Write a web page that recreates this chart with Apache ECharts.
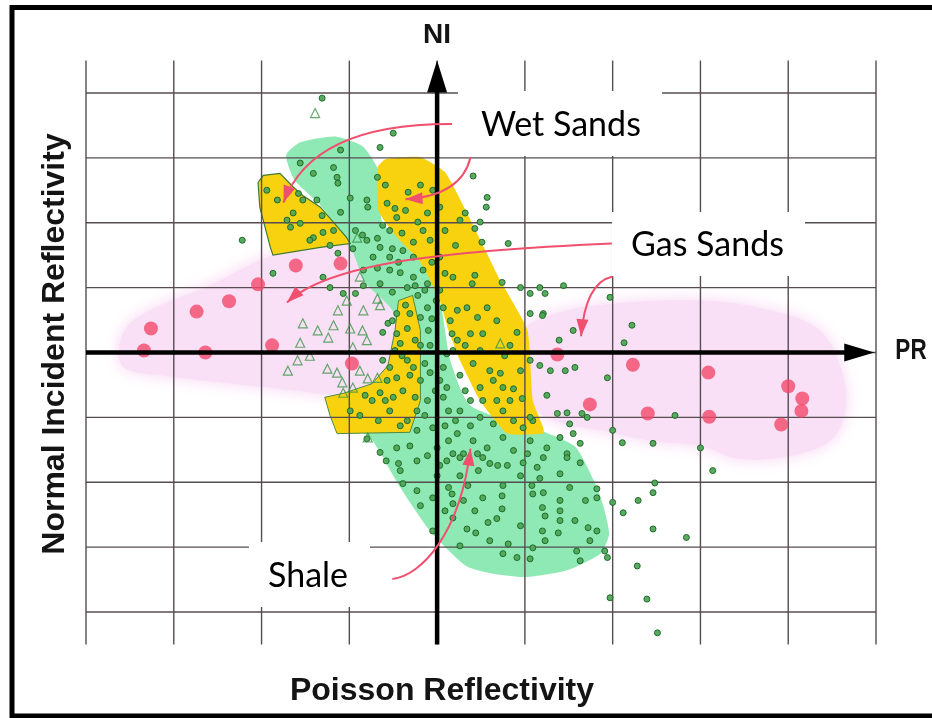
<!DOCTYPE html>
<html>
<head>
<meta charset="utf-8">
<script src="https://cdn.jsdelivr.net/npm/echarts@6/dist/echarts.min.js"></script>
<style>
  html, body { margin: 0; padding: 0; background: #ffffff; }
  #chart { width: 932px; height: 718px; }
</style>
</head>
<body>
<div id="chart"></div>
<script>
// Grid line positions, in reflectivity cells
const prTicks = [-4, -3, -2, -1, 0, 1, 2, 3, 4, 5];
const niTicks = [-4, -3, -2, -1, 0, 1, 2, 3, 4];

// Gas sand samples (large red dots): [PR, NI]
const gasSandPoints = [
  [-3.34, 0.03], [-3.26, 0.37], [-2.74, 0.63], [-2.37, 0.79], [-2.04, 1.05],
  [-1.61, 1.34], [-1.10, 1.37], [-2.64, 0.00], [-1.88, 0.11], [-0.97, -0.17],
  [1.37, -0.03], [2.23, -0.19], [3.09, -0.31], [1.74, -0.80], [2.40, -0.94],
  [3.10, -0.99], [4.00, -0.52], [4.16, -0.71], [4.15, -0.90], [3.92, -1.11]
];

// Shale / wet sand samples (small green circles): [PR, NI]
const circlePoints = [
  [-1.31, 3.92], [-0.65, 3.16], [-0.50, 3.38], [0.41, 2.72], [0.57, 2.39],
  [0.56, 2.24], [0.32, 2.15], [0.26, 2.04], [0.49, 2.01], [0.43, 1.91],
  [0.51, 1.70], [0.81, 1.68], [0.18, 1.16], [0.43, 1.19], [0.40, 1.06],
  [0.74, 1.08], [0.95, 1.00], [1.17, 1.00], [1.06, 0.91], [1.23, 0.91],
  [1.44, 1.03], [1.97, 0.85], [1.21, 0.60], [2.22, 0.42], [2.13, 0.15],
  [1.55, 0.34], [1.39, 0.19], [-2.22, 1.73], [-1.87, 1.22], [-1.07, 0.91],
  [-1.56, 2.92], [-1.41, 2.76], [-1.18, 2.85], [-1.14, 2.70], [-1.10, 3.12],
  [-0.68, 2.70], [-0.80, 2.35], [-1.10, 2.16], [-1.18, 1.88], [-1.64, 2.15],
  [-1.71, 2.04], [-1.56, 1.99], [-1.41, 1.77], [-1.94, 2.50], [-1.82, 2.35],
  [-1.53, 2.35], [-1.37, 2.35], [-1.13, 2.61], [-1.31, 2.11], [-1.58, 2.45],
  [-0.59, 2.58], [-0.79, 2.24], [-0.57, 2.30], [-0.48, 2.22], [-0.33, 2.47],
  [-0.99, 2.38], [-0.93, 1.88], [-0.85, 1.81], [-0.80, 1.73], [-0.68, 1.76],
  [-0.62, 1.96], [-0.54, 1.88], [-0.46, 2.08], [-0.40, 1.84], [-0.27, 1.70],
  [-0.16, 1.88], [-0.11, 2.15], [-0.65, 1.62], [-0.51, 1.60], [-0.39, 1.57],
  [-0.27, 1.47], [-0.54, 1.47], [-0.73, 1.47], [-0.84, 1.27], [-0.68, 1.30],
  [-0.54, 1.27], [-0.42, 1.23], [-0.27, 1.16], [-0.16, 1.27], [-0.11, 1.06],
  [-0.34, 1.00], [-0.65, 1.06], [-0.84, 1.03], [-0.93, 0.91], [-1.22, 1.00],
  [-1.30, 1.16], [-1.45, 1.73], [-1.67, 1.93], [-1.30, 1.85], [-1.22, 1.65],
  [-1.13, 1.53], [-0.96, 1.60], [0.03, 1.47], [0.09, 1.88], [0.03, 2.24],
  [0.09, 1.22], [0.03, 0.96], [-0.05, 2.50], [-0.19, 2.58], [0.21, 1.65],
  [-0.62, 0.31], [-0.56, 0.45], [-0.46, 0.29], [-0.42, 0.14], [-0.34, 0.37],
  [-0.25, 0.19], [-0.31, 0.60], [-0.19, 0.54], [-0.46, 0.60], [-0.10, 0.34],
  [-0.11, 0.69], [-0.62, -0.12], [-0.54, -0.23], [-0.57, -0.43], [-0.46, -0.39],
  [-0.34, -0.12], [-0.27, -0.23], [-0.19, -0.43], [-0.39, -0.59], [-0.50, -0.69],
  [-0.25, -0.69], [-0.11, -0.74], [-0.14, -0.17], [-0.59, -0.74], [-0.65, -0.62],
  [-0.99, -0.90], [-0.88, -0.97], [-0.67, -1.05], [-0.42, -1.13], [-0.23, -0.90],
  [-0.05, -1.16], [0.07, -0.23], [0.11, -0.54], [0.13, -0.90], [0.18, 0.03],
  [-0.65, -1.54], [-0.46, -1.47], [-0.23, -1.20], [0.00, -1.47], [0.13, -1.36],
  [0.18, -1.56], [0.07, 0.69], [0.15, 0.49], [0.17, 0.29], [0.11, -0.02],
  [0.07, -0.69], [0.03, -0.43], [0.23, 0.65], [0.34, 0.69], [0.46, 0.54],
  [0.57, 0.69], [0.52, 0.29], [0.38, 0.29], [0.68, 0.49], [0.91, 0.31],
  [0.23, 0.19], [0.41, -0.17], [0.60, -0.28], [0.72, -0.32], [0.64, -0.43],
  [0.75, -0.54], [0.87, -0.56], [0.95, -0.28], [0.49, -0.54], [0.52, -0.74],
  [0.68, -0.74], [0.83, -0.74], [0.97, -0.71], [0.75, -0.90], [0.38, -0.74],
  [0.26, -0.90], [0.49, -1.00], [0.64, -1.10], [0.87, -1.05], [0.98, -1.16],
  [1.09, -1.05], [0.23, -1.25], [0.41, -1.36], [0.57, -1.47], [0.75, -1.31],
  [0.87, -1.51], [1.06, -1.36], [1.03, -1.56], [0.30, -1.56], [0.52, -1.62],
  [1.25, -1.47], [1.40, -1.31], [1.48, -1.56], [1.55, -1.25], [1.63, -1.40],
  [-0.51, 0.93], [-0.22, 0.88], [-0.08, 0.11], [-0.36, 0.73],
  [1.06, 0.60], [1.20, 0.57], [1.06, -0.12], [1.17, -0.20], [1.29, -0.28],
  [1.46, -0.28], [1.57, -0.23], [1.94, -0.39], [1.25, -0.66], [1.37, -0.94],
  [1.48, -0.93], [1.65, -0.94], [1.71, -1.00], [1.06, -1.00], [1.51, -1.10],
  [2.71, -0.97], [2.00, -1.20], [2.11, -1.39], [2.46, -1.40], [3.00, -1.47],
  [3.14, -1.82], [2.48, -2.01], [2.46, -2.16],
  [-0.44, -1.71], [0.11, -1.67], [0.26, -1.62], [0.46, -1.56], [0.60, -1.71],
  [0.69, -1.74], [0.80, -1.74], [0.98, -1.70], [1.14, -1.77], [1.21, -1.62],
  [1.48, -1.62], [1.63, -1.70], [1.40, -1.87], [-0.39, -2.02], [0.13, -2.08],
  [0.17, -2.18], [0.35, -2.05], [0.52, -2.24], [0.75, -2.05], [0.74, -2.21],
  [1.08, -2.05], [1.09, -2.18], [1.21, -2.16], [1.51, -2.08], [1.82, -2.10],
  [1.82, -2.24], [0.18, -2.33], [0.74, -2.41], [0.68, -2.56], [1.20, -2.39],
  [1.23, -2.52], [1.40, -2.28], [1.40, -2.44], [1.40, -2.59], [1.38, -2.78],
  [1.20, -2.75], [0.58, -2.62], [0.34, -2.72], [0.44, -2.78], [1.72, -2.70],
  [1.82, -2.75], [0.81, -2.95], [1.09, -3.01], [1.23, -2.90], [0.75, -3.10],
  [0.91, -3.16], [1.06, -3.18], [1.59, -3.06], [1.63, -3.21], [1.91, -3.06],
  [1.94, -3.16], [2.00, -2.31], [2.12, -2.47], [2.29, -2.28], [2.46, -2.72],
  [2.28, -3.29], [1.97, -3.78], [2.39, -3.80], [2.51, -4.32], [-0.23, -1.67],
  [-0.42, -1.82], [-0.23, -2.13], [-0.05, -2.24], [0.00, -1.90], [0.30, -2.28],
  [0.18, -2.55], [-0.05, -2.75], [0.26, -2.98], [-0.58, -1.67], [-0.80, -1.33],
  [0.95, -1.90], [2.84, -2.85], [1.17, -1.94],
  [-0.19, 0.11], [-0.06, 0.52], [-0.01, 0.80], [-0.14, 0.96], [-0.25, 1.03],
  [-0.44, 1.39], [-0.06, 1.39], [-0.08, 1.73], [-0.22, 2.01], [-0.36, 2.19],
  [-0.51, 0.49], [-0.40, -0.05], [-0.48, 0.03], [-0.31, -0.35], [-0.08, -0.31],
  [-0.02, -0.59], [-0.14, -0.97], [-0.34, -1.05], [-0.54, -0.90], [-0.74, -0.74],
  [-0.82, -0.66], [0.26, -0.35], [0.32, -0.59], [0.21, -1.05], [0.09, -1.13],
  [0.38, -1.13], [0.03, -1.74], [-0.11, -1.59], [-0.31, -1.44], [0.26, -1.90],
  [0.47, -1.82], [-0.19, -2.36], [0.09, -2.44], [0.43, -2.44], [0.60, -2.90],
  [0.95, -2.67], [1.57, -2.59], [1.69, -2.28], [1.74, -2.90], [0.32, 0.11],
  [0.49, 0.03], [0.77, -0.05], [0.83, 0.11]
];

// Open triangle samples: [PR, NI]
const trianglePoints = [
  [-1.39, 3.69], [-0.68, 0.83], [-0.88, 1.17], [-1.53, 0.45], [-1.18, 0.42],
  [-0.99, 0.37], [-1.24, 0.23], [-1.56, 0.15], [-0.80, 0.19], [-0.96, 0.08],
  [-0.65, 0.73], [-1.36, 0.34], [-0.85, 0.34], [-1.25, -0.25], [-1.14, -0.31],
  [-1.08, -0.46], [-0.88, -0.28], [-0.79, -0.40], [-0.96, -0.54], [-1.07, -0.62],
  [-0.79, -1.31], [-0.91, 1.77], [-0.84, 0.65], [-1.59, -0.12], [-0.68, -0.39],
  [0.72, 0.14], [-1.03, 0.80], [-1.13, 0.65], [-1.70, -0.28], [-1.45, -0.05]
];

// Shaded zones (outline vertices): [PR, NI]
const gasZoneLeft = [
  [-3.63, 0.00], [-3.52, 0.42], [-3.15, 0.73], [-2.59, 1.03], [-2.07, 1.39],
  [-1.67, 1.60], [-1.22, 1.73], [-0.76, 1.60], [-0.42, 1.27], [-0.14, 0.80],
  [-0.08, 0.19], [-0.19, -0.35], [-0.53, -0.62], [-1.10, -0.66], [-1.79, -0.56],
  [-2.47, -0.46], [-3.15, -0.35], [-3.55, -0.25]
];
const gasZoneRight = [
  [0.89, 0.26], [1.40, 0.62], [2.08, 0.76], [3.00, 0.80], [3.79, 0.65],
  [4.36, 0.34], [4.61, -0.28], [4.65, -0.90], [4.48, -1.36], [4.02, -1.59],
  [3.45, -1.64], [3.00, -1.44], [2.43, -1.36], [1.86, -1.20], [1.34, -1.05],
  [1.00, -0.74], [0.85, -0.28]
];
const shaleZone = [
  [-1.72, 3.04], [-1.56, 3.24], [-1.16, 3.33], [-0.85, 3.18], [-0.67, 2.81],
  [-0.62, 1.99], [-0.23, 1.57], [0.03, 0.80], [0.15, -0.12], [0.38, -0.82],
  [1.23, -1.23], [1.58, -1.46], [1.85, -2.18], [1.96, -2.79], [1.86, -3.10],
  [1.47, -3.36], [1.01, -3.46], [0.64, -3.41], [0.33, -3.29], [-0.08, -2.75],
  [-0.42, -2.08], [-0.76, -1.31], [-0.99, -1.13], [-0.65, -0.66], [-0.44, 0.03],
  [-0.51, 0.65], [-0.82, 1.08], [-0.97, 1.57], [-1.33, 2.27], [-1.62, 2.65]
];
const wetZoneUpper = [
  [-2.04, 2.62], [-1.98, 2.73], [-1.79, 2.76], [-1.64, 2.55], [-1.53, 2.42],
  [-1.33, 2.24], [-1.03, 1.77], [-0.99, 1.68], [-1.33, 1.62], [-1.87, 1.50],
  [-1.90, 1.62], [-2.02, 2.24]
];
const wetZoneRight = [
  [-0.68, 2.85], [-0.59, 2.98], [-0.19, 3.01], [0.09, 2.78], [0.34, 2.15],
  [0.72, 1.11], [1.03, 0.34], [1.09, -0.74], [1.21, -1.16], [1.21, -1.25],
  [0.80, -1.25], [0.49, -0.74], [0.26, -0.12], [0.13, 0.34], [0.03, 0.80],
  [-0.19, 1.39], [-0.48, 1.81], [-0.67, 2.19]
];
const wetZoneLower = [
  [-1.28, -0.69], [-1.07, -0.63], [-0.74, -0.48], [-0.56, -0.20], [-0.48, 0.34],
  [-0.44, 0.80], [-0.28, 0.88], [-0.19, 0.34], [-0.19, -0.74], [-0.31, -1.23],
  [-1.14, -1.25], [-1.22, -0.97]
];

// Curved pointers from the labels (start, control point(s), tip): [PR, NI]
const pointerCurves = [
  [[0.17, 3.52], [-1.42, 3.53], [-1.75, 2.31]],
  [[0.38, 3.01], [0.28, 2.42], [-0.36, 2.36]],
  [[1.99, 1.68], [0.15, 1.57], [-1.22, 1.39], [-1.71, 0.77]],
  [[2.00, 1.17], [1.69, 1.08], [1.64, 0.25]],
  [[-0.51, -3.49], [-0.19, -3.44], [0.26, -2.82], [0.38, -1.48]]
];

const chart = echarts.init(document.getElementById('chart'), null, { renderer: 'canvas' });

function zoneSeries(points, style, z, smooth) {
  return {
    type: 'custom', z: z, silent: true, data: [0],
    renderItem: function (params, api) {
      return {
        type: 'polygon',
        shape: { points: points.map(p => api.coord(p)), smooth: smooth },
        style: style
      };
    }
  };
}

const pointerColor = '#f0506e';
const hazeStyle = { fill: '#f9e0f6', shadowBlur: 16, shadowColor: '#f7d4f2' };

const option = {
  animation: false,
  grid: { left: 86, right: 56, top: 60.5, bottom: 73.5 },
  xAxis: { type: 'value', min: -4, max: 5, show: false },
  yAxis: { type: 'value', min: -4.5, max: 4.5, show: false },
  series: [
    zoneSeries(gasZoneLeft, hazeStyle, 1, 0.35),
    zoneSeries(gasZoneRight, hazeStyle, 1, 0.35),
    zoneSeries(shaleZone, { fill: '#8fe9b5' }, 2, 0.2),
    zoneSeries(wetZoneRight, { fill: '#f8d20f' }, 3, 0.15),
    zoneSeries(wetZoneLower, { fill: '#f8d20f', stroke: '#4f8a3e', lineWidth: 1 }, 3, 0),
    zoneSeries(wetZoneUpper, { fill: '#f8d20f', stroke: '#3f7a36', lineWidth: 1.2 }, 3, 0),
    {
      // vertical grid lines
      type: 'custom', z: 4, silent: true, data: prTicks,
      renderItem: function (params, api) {
        const x = api.value(0);
        const a = api.coord([x, -4.5]);
        const b = api.coord([x, 4.5]);
        return { type: 'line', shape: { x1: a[0], y1: a[1], x2: b[0], y2: b[1] },
                 style: { stroke: '#574c50', lineWidth: 1.4 } };
      }
    },
    {
      // horizontal grid lines
      type: 'custom', z: 4, silent: true, data: niTicks,
      renderItem: function (params, api) {
        const y = api.value(0);
        const a = api.coord([-4, y]);
        const b = api.coord([5, y]);
        return { type: 'line', shape: { x1: a[0], y1: a[1], x2: b[0], y2: b[1] },
                 style: { stroke: '#574c50', lineWidth: 1.4 } };
      }
    },
    {
      type: 'scatter', z: 5, silent: true, data: circlePoints,
      symbol: 'circle', symbolSize: 6,
      itemStyle: { color: '#4fa656', borderColor: '#1c6628', borderWidth: 1, opacity: 0.95 }
    },
    {
      type: 'scatter', z: 5, silent: true, data: trianglePoints,
      symbol: 'triangle', symbolSize: 9,
      itemStyle: { color: 'rgba(255,255,255,0)', borderColor: '#3d9548', borderWidth: 1.2 }
    },
    {
      type: 'scatter', z: 6, silent: true, data: gasSandPoints,
      symbol: 'circle', symbolSize: 14,
      itemStyle: { color: '#f2486c' }
    },
    {
      // NI and PR axes with arrowheads
      type: 'custom', z: 7, silent: true, data: [0],
      renderItem: function (params, api) {
        const yb = api.coord([0, -4.5]);
        const yt = api.coord([0, 4.5]);
        const xl = api.coord([-4, 0]);
        const xr = api.coord([4.98, 0]);
        const lineStyle = { stroke: '#000', lineWidth: 4.5 };
        return {
          type: 'group',
          children: [
            { type: 'line', shape: { x1: yb[0], y1: yb[1], x2: yt[0], y2: yt[1] + 20 }, style: lineStyle },
            { type: 'polygon', shape: { points: [[yt[0], yt[1]], [yt[0] - 10, yt[1] + 32], [yt[0] + 10, yt[1] + 32]] }, style: { fill: '#000' } },
            { type: 'line', shape: { x1: xl[0], y1: xl[1], x2: xr[0] - 20, y2: xr[1] }, style: lineStyle },
            { type: 'polygon', shape: { points: [[xr[0], xr[1]], [xr[0] - 30, xr[1] - 9], [xr[0] - 30, xr[1] + 9]] }, style: { fill: '#000' } }
          ]
        };
      }
    },
    {
      // curved label pointers
      type: 'custom', z: 8, silent: true, data: pointerCurves.map((c, i) => i),
      renderItem: function (params, api) {
        const pts = pointerCurves[params.dataIndex].map(p => api.coord(p));
        const tip = pts[pts.length - 1];
        const prev = pts[pts.length - 2];
        const shape = { x1: pts[0][0], y1: pts[0][1], x2: tip[0], y2: tip[1], cpx1: pts[1][0], cpy1: pts[1][1] };
        if (pts.length === 4) { shape.cpx2 = pts[2][0]; shape.cpy2 = pts[2][1]; }
        let dx = tip[0] - prev[0], dy = tip[1] - prev[1];
        const len = Math.sqrt(dx * dx + dy * dy) || 1;
        dx /= len; dy /= len;
        const hl = 17, hw = 6;
        const bx = tip[0] - dx * hl, by = tip[1] - dy * hl;
        return {
          type: 'group',
          children: [
            { type: 'bezierCurve', shape: shape, style: { stroke: pointerColor, lineWidth: 2, fill: 'none' } },
            { type: 'polygon', shape: { points: [[tip[0], tip[1]], [bx - dy * hw, by + dx * hw], [bx + dy * hw, by - dx * hw]] },
              style: { fill: pointerColor } }
          ]
        };
      }
    }
  ],
  graphic: [
    { type: 'rect', z: 100, shape: { x: 458, y: 91, width: 204, height: 65 }, style: { fill: '#fff' } },
    { type: 'rect', z: 100, shape: { x: 612, y: 212, width: 193, height: 64 }, style: { fill: '#fff' } },
    { type: 'rect', z: 100, shape: { x: 249, y: 542, width: 121, height: 65 }, style: { fill: '#fff' } },
    { type: 'text', z: 101, x: 481, y: 125, style: { text: 'Wet Sands', font: '34px Lato', fill: '#000', verticalAlign: 'middle' } },
    { type: 'text', z: 101, x: 631, y: 245, style: { text: 'Gas Sands', font: '34px Lato', fill: '#000', verticalAlign: 'middle' } },
    { type: 'text', z: 101, x: 268, y: 576, style: { text: 'Shale', font: '34px Lato', fill: '#000', verticalAlign: 'middle' } },
    { type: 'text', z: 101, x: 437, y: 35, style: { text: 'NI', font: 'bold 28px "Liberation Sans"', fill: '#141414', align: 'center', verticalAlign: 'middle' } },
    { type: 'text', z: 101, x: 911, y: 351, scaleX: 0.75, style: { text: 'PR', font: 'bold 30px "Liberation Sans"', fill: '#141414', align: 'center', verticalAlign: 'middle' } },
    { type: 'text', z: 101, x: 55, y: 344, rotation: Math.PI / 2, style: { text: 'Normal Incident Reflectivity', font: 'bold 32px "Liberation Sans"', fill: '#141414', align: 'center', verticalAlign: 'middle' } },
    { type: 'text', z: 101, x: 442, y: 691, style: { text: 'Poisson Reflectivity', font: 'bold 32px "Liberation Sans"', fill: '#141414', align: 'center', verticalAlign: 'middle' } },
    { type: 'rect', z: 102, shape: { x: 12, y: 7.5, width: 930, height: 708.5 }, style: { fill: 'none', stroke: '#000', lineWidth: 5 } }
  ]
};

chart.setOption(option);
</script>
</body>
</html>
